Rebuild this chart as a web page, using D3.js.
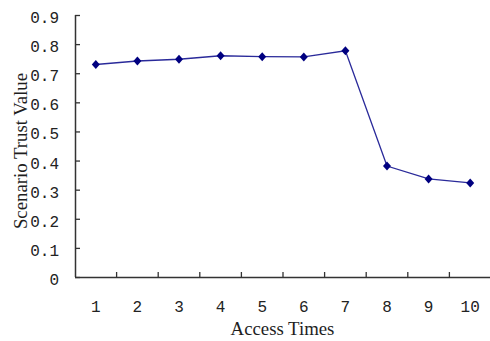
<!DOCTYPE html>
<html>
<head>
<meta charset="utf-8">
<script src="https://cdn.jsdelivr.net/npm/d3@7/dist/d3.min.js"></script>
<style>
  html, body { margin: 0; padding: 0; background: #fff; }
  svg { display: block; }
</style>
</head>
<body>
<svg id="chart" width="490" height="341"></svg>
<script>
// Access times (categories) and the scenario trust value after each access
const accessTimes = [1, 2, 3, 4, 5, 6, 7, 8, 9, 10];
const trustValues = [0.730, 0.742, 0.748, 0.760, 0.757, 0.756, 0.777, 0.381, 0.337, 0.323];
const yTicks = [0, 0.1, 0.2, 0.3, 0.4, 0.5, 0.6, 0.7, 0.8, 0.9];
const yTickLabels = ["0", "0.1", "0.2", "0.3", "0.4", "0.5", "0.6", "0.7", "0.8", "0.9"];

const svg = d3.select("#chart");
const plotLeft = 75, plotRight = 491, plotTop = 15, plotBottom = 277;

const x = d3.scaleBand().domain(accessTimes).range([plotLeft, plotRight]).padding(0);
const y = d3.scaleLinear().domain([0, 0.9]).range([plotBottom, plotTop]);

const axisColor = "#333";
const tickFont = "Liberation Mono, DejaVu Sans Mono, monospace";

// Y axis with inward ticks
const yAxis = svg.append("g")
  .attr("transform", `translate(${plotLeft},0)`)
  .call(d3.axisRight(y).tickValues(yTicks).tickSize(5).tickFormat(""));
yAxis.select(".domain").attr("stroke", axisColor).attr("stroke-width", 1.5)
  .attr("d", `M0.5,${plotTop}V${plotBottom}`);
yAxis.selectAll(".tick line").attr("stroke", axisColor).attr("stroke-width", 1.3);

svg.append("g").selectAll("text")
  .data(yTicks)
  .join("text")
  .attr("x", 59)
  .attr("y", d => y(d) + 8)
  .attr("text-anchor", "end")
  .attr("font-family", tickFont)
  .attr("font-size", 16)
  .attr("fill", "#222")
  .text((d, i) => yTickLabels[i]);

// X axis: ticks between categories, pointing inward
const xBoundaries = accessTimes.slice(1).map(d => x(d))
  .concat([x(accessTimes[accessTimes.length - 1]) + x.bandwidth()]);
svg.append("line")
  .attr("x1", plotLeft).attr("x2", plotRight)
  .attr("y1", plotBottom + 0.5).attr("y2", plotBottom + 0.5)
  .attr("stroke", axisColor).attr("stroke-width", 1.5);
svg.append("g").selectAll("line")
  .data(xBoundaries)
  .join("line")
  .attr("x1", d => d).attr("x2", d => d)
  .attr("y1", plotBottom).attr("y2", plotBottom - 5)
  .attr("stroke", axisColor).attr("stroke-width", 1.3);

svg.append("g").selectAll("text")
  .data(accessTimes)
  .join("text")
  .attr("x", d => x(d) + x.bandwidth() / 2)
  .attr("y", 312)
  .attr("text-anchor", "middle")
  .attr("font-family", tickFont)
  .attr("font-size", 16)
  .attr("fill", "#222")
  .text(d => d);

// Axis titles
svg.append("text")
  .attr("x", 282.5)
  .attr("y", 335)
  .attr("text-anchor", "middle")
  .attr("font-family", "Liberation Serif, Times New Roman, serif")
  .attr("font-size", 18.8)
  .attr("fill", "#1e1e1e")
  .text("Access Times");

svg.append("text")
  .attr("transform", "translate(27,151) rotate(-90)")
  .attr("text-anchor", "middle")
  .attr("font-family", "Liberation Serif, Times New Roman, serif")
  .attr("font-size", 18.8)
  .attr("fill", "#1e1e1e")
  .text("Scenario Trust Value");

// Series line and diamond markers
const pts = accessTimes.map((d, i) => [x(d) + x.bandwidth() / 2, y(trustValues[i])]);
svg.append("path")
  .attr("d", d3.line()(pts))
  .attr("fill", "none")
  .attr("stroke", "#2a2a9a")
  .attr("stroke-width", 1.3);

svg.append("g").selectAll("path")
  .data(pts)
  .join("path")
  .attr("transform", d => `translate(${d[0]},${d[1]})`)
  .attr("d", "M0,-4.5L4,0L0,4.5L-4,0Z")
  .attr("fill", "#000080");
</script>
</body>
</html>
